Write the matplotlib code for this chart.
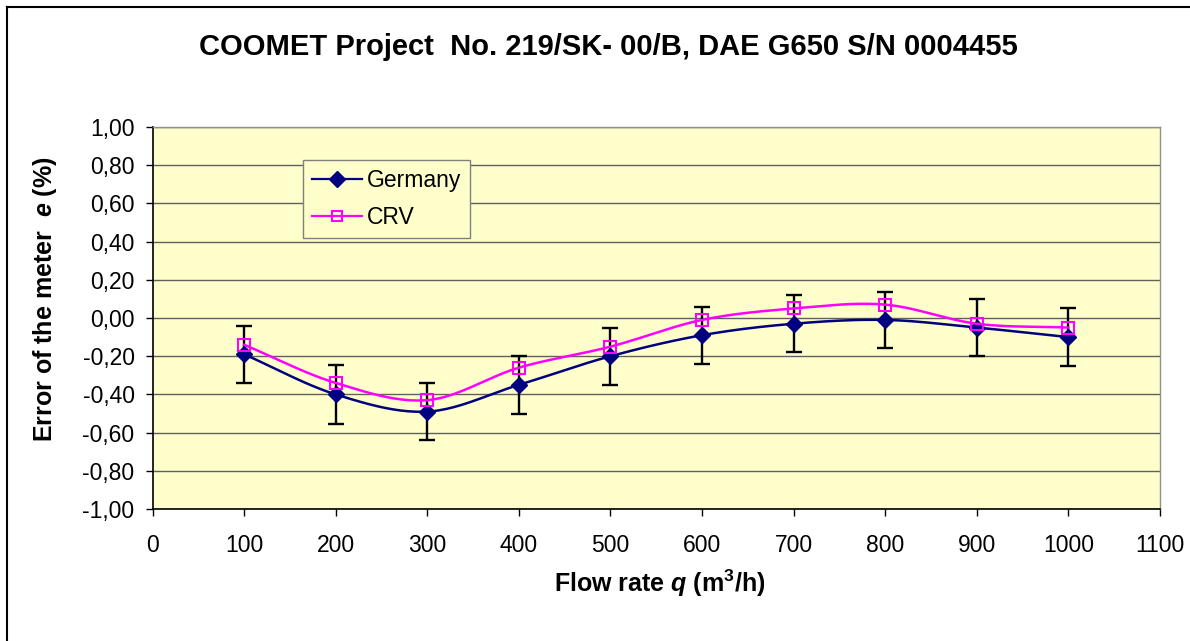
import numpy as np
import matplotlib
matplotlib.use("Agg")
import matplotlib.pyplot as plt
from matplotlib.ticker import FuncFormatter, MultipleLocator
from matplotlib.lines import Line2D

plt.rcParams['font.family'] = ['Liberation Sans', 'DejaVu Sans']
plt.rcParams['mathtext.fontset'] = 'custom'
plt.rcParams['mathtext.it'] = 'Liberation Sans:bold:italic'
plt.rcParams['mathtext.rm'] = 'Liberation Sans:bold'
plt.rcParams['mathtext.bf'] = 'Liberation Sans:bold'

# data
flow_rate = [100, 200, 300, 400, 500, 600, 700, 800, 900, 1000]
germany = [-0.19, -0.40, -0.49, -0.35, -0.20, -0.09, -0.03, -0.01, -0.05, -0.10]
germany_err = [0.15, 0.155, 0.15, 0.15, 0.15, 0.15, 0.15, 0.145, 0.15, 0.15]
crv = [-0.14, -0.34, -0.43, -0.26, -0.15, -0.01, 0.05, 0.07, -0.03, -0.05]


def smooth(x, y, n=25):
    # Catmull-Rom curve through the points, like Excel's smoothed line
    x = np.asarray(x, float)
    y = np.asarray(y, float)
    px = np.concatenate([[2 * x[0] - x[1]], x, [2 * x[-1] - x[-2]]])
    py = np.concatenate([[2 * y[0] - y[1]], y, [2 * y[-1] - y[-2]]])
    xs, ys = [], []
    t = np.linspace(0, 1, n)
    for i in range(1, len(px) - 2):
        for p, out in ((px, xs), (py, ys)):
            p0, p1, p2, p3 = p[i - 1], p[i], p[i + 1], p[i + 2]
            out.extend(0.5 * ((2 * p1) + (-p0 + p2) * t
                              + (2 * p0 - 5 * p1 + 4 * p2 - p3) * t ** 2
                              + (-p0 + 3 * p1 - 3 * p2 + p3) * t ** 3))
    return np.array(xs), np.array(ys)


fig = plt.figure(figsize=(11.9, 6.41), dpi=100)
ax = fig.add_axes([0.1282, 0.2059, 0.8466, 0.596])
ax.set_facecolor('#FFFFCC')

ax.set_xlim(0, 1100)
ax.set_ylim(-1.0, 1.0)
ax.xaxis.set_major_locator(MultipleLocator(100))
ax.yaxis.set_major_locator(MultipleLocator(0.2))
ax.yaxis.set_major_formatter(FuncFormatter(lambda v, p: f'{v:.2f}'.replace('.', ',')))
ax.grid(axis='y', color='#606060', linewidth=1.0)
ax.set_axisbelow(True)

for s in ['top', 'right']:
    ax.spines[s].set_color('#909090')
    ax.spines[s].set_linewidth(1.0)
for s in ['left', 'bottom']:
    ax.spines[s].set_color('black')
    ax.spines[s].set_linewidth(1.2)
ax.tick_params(axis='y', direction='out', length=5, width=1, pad=8, labelsize=16.5)
ax.tick_params(axis='x', direction='out', length=5, width=1, pad=13, labelsize=16.5)

ax.errorbar(flow_rate, germany, yerr=germany_err, fmt='none', ecolor='black',
            elinewidth=1.7, capsize=6, capthick=1.7, zorder=3)

gx, gy = smooth(flow_rate, germany)
ax.plot(gx, gy, color='#000080', linewidth=1.8, zorder=4)
ax.plot(flow_rate, germany, linestyle='none', marker='D', markersize=8.5,
        color='#000080', zorder=5)

cx, cy = smooth(flow_rate, crv)
ax.plot(cx, cy, color='#FF00FF', linewidth=1.8, zorder=6)
ax.plot(flow_rate, crv, linestyle='none', marker='s', markersize=9,
        markerfacecolor='none', markeredgecolor='#FF00FF', markeredgewidth=1.5, zorder=7)

handles = [
    Line2D([], [], color='#000080', linewidth=1.6, marker='D', markersize=8),
    Line2D([], [], color='#FF00FF', linewidth=1.6, marker='s', markersize=7,
           markerfacecolor='none', markeredgewidth=1.5),
]
leg = ax.legend(handles, ['Germany', 'CRV'], loc='upper left',
                bbox_to_anchor=(0.149, 0.914), borderaxespad=0, fancybox=False,
                framealpha=1, facecolor='#FFFFCC', edgecolor='#808080',
                fontsize=16.5, handlelength=2.2, handletextpad=0.2,
                borderpad=0.4, labelspacing=0.6)
leg.get_frame().set_linewidth(1.0)

fig.text(608 / 1190, 1 - 47 / 641, 'COOMET Project  No. 219/SK- 00/B, DAE G650 S/N 0004455',
         ha='center', va='center', fontsize=21, fontweight='bold')
fig.text(660 / 1190, 1 - 583 / 641, r'Flow rate $q$ (m$^{3}$/h)',
         ha='center', va='center', fontsize=18, fontweight='bold')
fig.text(45 / 1190, 1 - 299 / 641, r'Error of the meter  $e$ (%)',
         ha='center', va='center', rotation=90, fontsize=18, fontweight='bold')

# outer chart frame (only left and top edges visible)
fig.add_artist(Line2D([7 / 1190, 7 / 1190], [0, 1 - 7 / 641], color='black', linewidth=1.5))
fig.add_artist(Line2D([7 / 1190, 1], [1 - 7 / 641, 1 - 7 / 641], color='black', linewidth=1.5))

fig.savefig('out.png', dpi=100)
